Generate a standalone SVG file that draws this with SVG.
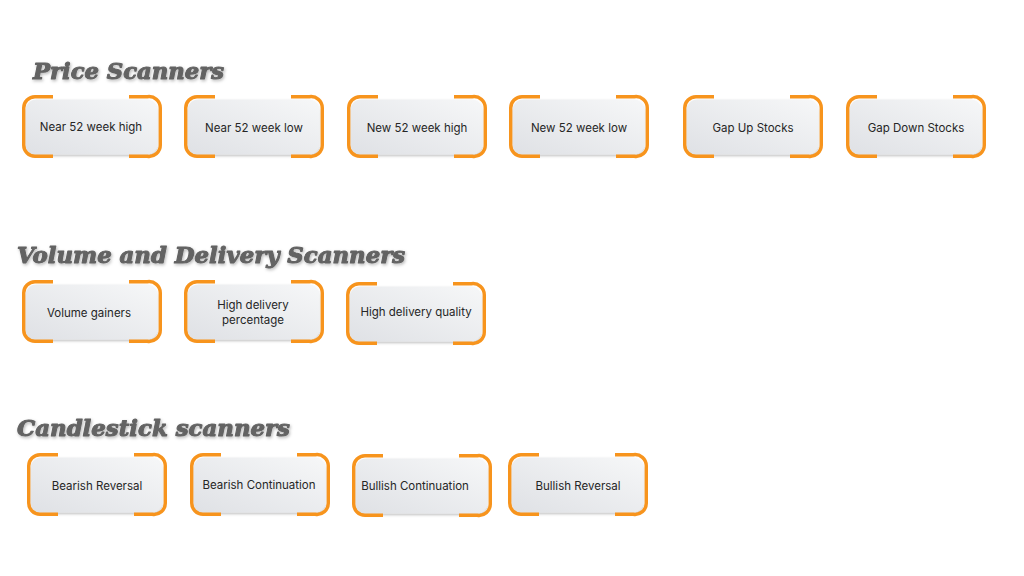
<svg xmlns="http://www.w3.org/2000/svg" xmlns:xlink="http://www.w3.org/1999/xlink" width="1024" height="576" viewBox="0 0 1024 576">
<style>
.h{font-family:"DejaVu Serif","Liberation Serif",serif;font-weight:bold;font-style:italic;font-size:23px;fill:#636363;stroke:#636363;stroke-width:1.1;stroke-linejoin:round;filter:url(#hs)}
.t{font-family:Inter,"Open Sans","Liberation Sans",sans-serif;font-size:11.5px;fill:#262626;text-anchor:middle}
.o{fill:none;stroke:#f7941d;stroke-width:3.4;stroke-linecap:butt}
</style>
<defs>
<linearGradient id="g" x1="0" y1="1" x2="1" y2="0">
<stop offset="0" stop-color="#dfe1e5"/>
<stop offset="1" stop-color="#f6f7f8"/>
</linearGradient>
<filter id="hs" x="-5%" y="-20%" width="110%" height="150%">
<feDropShadow dx="1" dy="1.5" stdDeviation="1.4" flood-color="#000" flood-opacity="0.28"/>
</filter>
<filter id="cs" x="-10%" y="-20%" width="120%" height="150%">
<feDropShadow dx="0" dy="1.5" stdDeviation="1.2" flood-color="#000" flood-opacity="0.25"/>
</filter>
<g id="card">
<rect x="3.5" y="4.5" width="132" height="55" rx="11" fill="url(#g)" filter="url(#cs)"/>
<path class="o" d="M31,1.7 H13 A11.3,11.3 0 0 0 1.7,13 V50 A11.3,11.3 0 0 0 13,61.3 H31"/>
<path class="o" d="M107,1.7 H125.3 A11.3,11.3 0 0 1 138.3,13 V50 A11.3,11.3 0 0 1 125.3,61.3 H107"/>
</g>
</defs>
<rect width="1024" height="576" fill="#ffffff"/>

<text class="h" x="33" y="79" textLength="191" lengthAdjust="spacingAndGlyphs">Price Scanners</text>
<text class="h" x="17" y="263" textLength="388" lengthAdjust="spacingAndGlyphs">Volume and Delivery Scanners</text>
<text class="h" x="17" y="436" textLength="273" lengthAdjust="spacingAndGlyphs">Candlestick scanners</text>

<g id="connectors"></g>

<g id="n-near52high" transform="translate(22,95)"><use xlink:href="#card"/><text class="t" x="69" y="36">Near 52 week high</text></g>
<g id="n-near52low" transform="translate(184,95)"><use xlink:href="#card"/><text class="t" x="70" y="37">Near 52 week low</text></g>
<g id="n-new52high" transform="translate(347,95)"><use xlink:href="#card"/><text class="t" x="70" y="37">New 52 week high</text></g>
<g id="n-new52low" transform="translate(509,95)"><use xlink:href="#card"/><text class="t" x="70" y="37">New 52 week low</text></g>
<g id="n-gapup" transform="translate(683,95)"><use xlink:href="#card"/><text class="t" x="70" y="37">Gap Up Stocks</text></g>
<g id="n-gapdown" transform="translate(846,95)"><use xlink:href="#card"/><text class="t" x="70" y="37">Gap Down Stocks</text></g>

<g id="n-volgainers" transform="translate(22,280)"><use xlink:href="#card"/><text class="t" x="67" y="37">Volume gainers</text></g>
<g id="n-highdelpct" transform="translate(184,280)"><use xlink:href="#card"/><text class="t" x="69" y="29">High delivery</text><text class="t" x="69" y="44">percentage</text></g>
<g id="n-highdelq" transform="translate(346,282)"><use xlink:href="#card"/><text class="t" x="70" y="34">High delivery quality</text></g>

<g id="n-bearrev" transform="translate(27,453)"><use xlink:href="#card"/><text class="t" x="70" y="37">Bearish Reversal</text></g>
<g id="n-bearcont" transform="translate(190,453)"><use xlink:href="#card"/><text class="t" x="69" y="36">Bearish Continuation</text></g>
<g id="n-bullcont" transform="translate(352,454)"><use xlink:href="#card"/><text class="t" x="63" y="36">Bullish Continuation</text></g>
<g id="n-bullrev" transform="translate(508,453)"><use xlink:href="#card"/><text class="t" x="70" y="37">Bullish Reversal</text></g>
</svg>
